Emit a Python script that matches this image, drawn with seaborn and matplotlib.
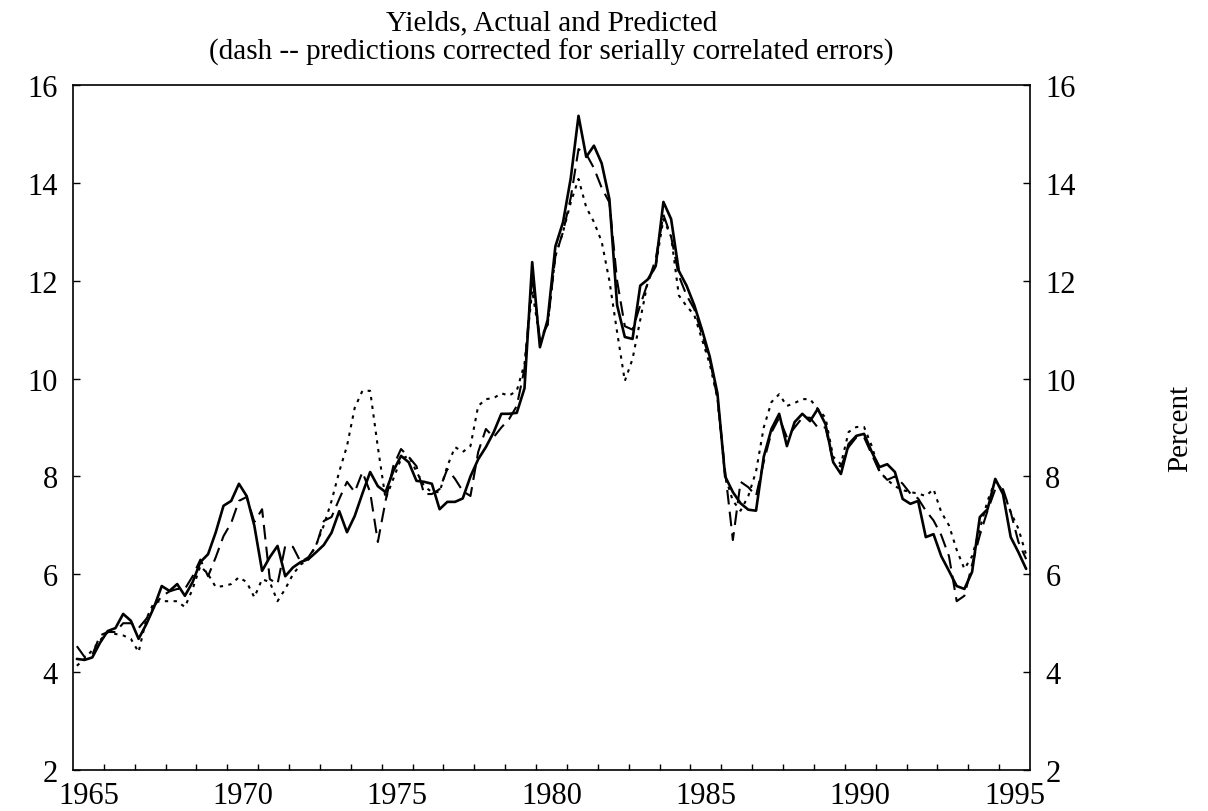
import numpy as np
import pandas as pd
import matplotlib
matplotlib.use("Agg")
import matplotlib.pyplot as plt
import seaborn as sns

# Quarterly observations, 1964Q3 .. 1995Q2 (plotted at mid-quarter)
quarters = pd.period_range("1964Q3", "1995Q2", freq="Q")

actual = [
    4.27, 4.25, 4.30, 4.60, 4.84, 4.90, 5.19, 5.05, 4.68, 4.98,
    5.33, 5.76, 5.66, 5.80, 5.56, 5.84, 6.25, 6.41, 6.86, 7.40,
    7.50, 7.85, 7.60, 6.99, 6.07, 6.35, 6.58, 5.96, 6.14, 6.25,
    6.31, 6.45, 6.60, 6.85, 7.29, 6.86, 7.19, 7.65, 8.09, 7.80,
    7.68, 8.11, 8.42, 8.29, 7.91, 7.89, 7.85, 7.33, 7.48, 7.48,
    7.55, 8.00, 8.35, 8.60, 8.90, 9.28, 9.28, 9.30, 9.80, 12.38,
    10.64, 11.20, 12.70, 13.20, 14.10, 15.37, 14.53, 14.76, 14.40, 13.67,
    11.50, 10.85, 10.81, 11.90, 12.03, 12.30, 13.61, 13.26, 12.20, 11.90,
    11.50, 11.00, 10.45, 9.70, 8.00, 7.68, 7.45, 7.32, 7.30, 8.40,
    8.97, 9.28, 8.62, 9.11, 9.28, 9.13, 9.38, 9.07, 8.29, 8.05,
    8.66, 8.83, 8.87, 8.50, 8.19, 8.25, 8.09, 7.54, 7.44, 7.50,
    6.76, 6.82, 6.37, 6.07, 5.76, 5.70, 6.05, 7.17, 7.33, 7.95,
    7.64, 6.76, 6.45, 6.11,
]

corrected = [
    4.53, 4.31, 4.35, 4.75, 4.82, 4.82, 5.00, 5.00, 4.90, 5.09,
    5.35, 5.55, 5.65, 5.70, 5.70, 5.96, 6.30, 5.96, 6.35, 6.78,
    7.05, 7.50, 7.58, 7.07, 7.33, 5.90, 5.80, 6.58, 6.56, 6.25,
    6.35, 6.58, 7.09, 7.17, 7.54, 7.89, 7.68, 8.09, 7.68, 6.66,
    7.50, 8.21, 8.56, 8.40, 8.21, 7.64, 7.64, 7.74, 8.15, 7.95,
    7.70, 7.60, 8.50, 8.97, 8.80, 9.00, 9.17, 9.44, 10.20, 12.10,
    10.80, 11.10, 12.50, 13.00, 13.70, 14.69, 14.59, 14.30, 13.90, 13.60,
    12.00, 11.07, 11.00, 11.50, 11.97, 12.44, 13.35, 12.90, 12.10, 11.70,
    11.42, 10.90, 10.40, 9.60, 8.10, 6.70, 7.89, 7.78, 7.60, 8.30,
    8.90, 9.20, 8.80, 9.00, 9.20, 9.20, 9.00, 9.00, 8.30, 8.20,
    8.60, 8.80, 8.80, 8.45, 8.10, 7.93, 8.00, 7.85, 7.65, 7.55,
    7.30, 7.10, 6.80, 6.37, 5.45, 5.56, 6.20, 6.80, 7.30, 7.74,
    7.74, 7.27, 6.66, 6.31,
]

predicted = [
    4.13, 4.27, 4.45, 4.65, 4.82, 4.78, 4.75, 4.68, 4.41, 5.09,
    5.43, 5.45, 5.45, 5.45, 5.33, 5.70, 6.17, 6.00, 5.74, 5.76,
    5.80, 5.94, 5.84, 5.53, 5.90, 5.84, 5.45, 5.70, 6.00, 6.20,
    6.30, 6.60, 7.00, 7.50, 8.10, 8.62, 9.40, 9.75, 9.75, 8.60,
    7.54, 7.95, 8.36, 8.42, 8.10, 7.80, 7.68, 7.68, 8.21, 8.60,
    8.50, 8.62, 9.44, 9.58, 9.60, 9.70, 9.65, 9.75, 10.30, 11.80,
    10.80, 11.10, 12.50, 13.00, 13.60, 14.08, 13.50, 13.20, 12.80, 12.00,
    10.95, 9.95, 10.40, 11.20, 12.00, 12.30, 13.26, 12.90, 11.70, 11.48,
    11.30, 10.80, 10.30, 9.60, 8.00, 7.50, 7.30, 7.60, 8.10, 9.00,
    9.52, 9.68, 9.44, 9.50, 9.58, 9.58, 9.38, 9.20, 8.40, 8.25,
    8.91, 9.01, 9.01, 8.62, 8.10, 7.93, 7.80, 7.72, 7.68, 7.65,
    7.60, 7.74, 7.27, 7.00, 6.50, 6.11, 6.37, 6.93, 7.50, 7.91,
    7.70, 7.27, 6.93, 6.40,
]

year_labels = [1965, 1970, 1975, 1980, 1985, 1990, 1995]
y_ticks = [2, 4, 6, 8, 10, 12, 14, 16]

title = ("Yields, Actual and Predicted\n"
         "(dash -- predictions corrected for serially correlated errors)")

t = np.array([q.year + (q.quarter - 1) / 4 + 0.125 for q in quarters])

df = pd.DataFrame({"t": t, "actual": actual,
                   "corrected": corrected, "predicted": predicted})

sns.set_theme(style="ticks")
plt.rcParams["font.family"] = ["Liberation Serif", "DejaVu Serif"]
plt.rcParams["axes.linewidth"] = 1.2

fig = plt.figure(figsize=(12.08, 8.12), dpi=100)
ax = fig.add_axes([73 / 1208, 1 - 771 / 812, (1030 - 73) / 1208, (771 - 86) / 812])

sns.lineplot(data=df, x="t", y="predicted", ax=ax, color="black",
             lw=1.5, linestyle=(0, (1.6, 2.6)), estimator=None)
sns.lineplot(data=df, x="t", y="corrected", ax=ax, color="black",
             lw=1.5, linestyle=(0, (7, 3.5)), estimator=None)
sns.lineplot(data=df, x="t", y="actual", ax=ax, color="black",
             lw=1.9, linestyle="-", estimator=None)

ax.set_xlim(1964.5, 1995.5)
ax.set_ylim(2, 16)
ax.set_xlabel("")
ax.set_ylabel("")

ax.set_xticks(year_labels)
ax.set_xticklabels([str(y) for y in year_labels])
ax.set_xticks(np.arange(1965.5, 1995.0, 1.0), minor=True)
ax.set_yticks(y_ticks)
ax.set_yticklabels([str(v) for v in y_ticks])

for s in ax.spines.values():
    s.set_visible(True)
    s.set_color("black")
    s.set_linewidth(1.2)

ax.tick_params(axis="x", which="major", length=0, pad=8, labelsize=22,
               colors="black")
ax.tick_params(axis="x", which="minor", direction="in", length=4, width=1,
               top=False, bottom=True, color="black")
ax.tick_params(axis="y", which="major", direction="in", length=5, width=1,
               left=True, right=True, labelleft=True, labelright=True,
               labelsize=22, pad=11, colors="black")

ax.set_title(title, fontsize=21, pad=19, linespacing=1.12, color="black")

fig.text(1180 / 1208, 1 - 428 / 812, "Percent", rotation=90, ha="center",
         va="center", fontsize=21, color="black")

fig.savefig("out.png", dpi=100, facecolor="white")
